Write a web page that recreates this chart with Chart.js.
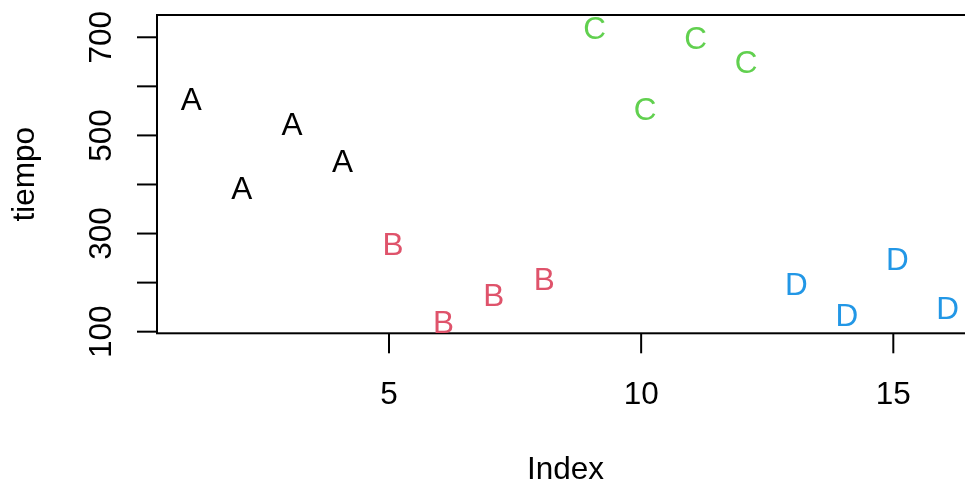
<!DOCTYPE html>
<html>
<head>
<meta charset="utf-8">
<script src="https://cdn.jsdelivr.net/npm/chart.js@4.4.1/dist/chart.umd.min.js"></script>
<style>
  html, body { margin: 0; padding: 0; background: #ffffff; overflow: hidden; width: 965px; height: 487px; }
  canvas { display: block; }
</style>
</head>
<body>
<canvas id="c" width="1000" height="487"></canvas>
<script>
// ---- data ----
const categories = ['A', 'B', 'C', 'D'];
const groupOf = ['A','A','A','A','B','B','B','B','C','C','C','C','D','D','D','D'];
const tiempo = [575, 393, 524, 448, 278, 119, 174, 208, 719, 554, 699, 650, 198, 135, 249, 149];
const groupColors = ['#000000', '#DF536B', '#61D04F', '#2297E6'];
const xTickValues = [5, 10, 15];
const xTickLabels = ['5', '10', '15'];
const yTickValues = [100, 200, 300, 400, 500, 600, 700];
const yTickLabels = ['100', '', '300', '', '500', '', '700'];
const xTitle = 'Index';
const yTitle = 'tiempo';

const FONT_SIZE = 31.5;
const FONT = FONT_SIZE + 'px "Liberation Sans", Arial, sans-serif';

const datasets = categories.map((cat, ci) => ({
  label: cat,
  data: tiempo.map((v, i) => ({ x: i + 1, y: v, g: groupOf[i] })).filter(p => p.g === cat),
  pointRadius: 0,
  pointHoverRadius: 0,
  showLine: false,
  color: groupColors[ci]
}));

const rBase = {
  id: 'rBase',
  afterDraw(chart) {
    const ctx = chart.ctx;
    const a = chart.chartArea;
    const xs = chart.scales.x, ys = chart.scales.y;
    ctx.save();
    ctx.strokeStyle = '#000';
    ctx.fillStyle = '#000';
    ctx.lineWidth = 2;
    ctx.strokeRect(a.left, a.top, a.right - a.left, a.bottom - a.top);
    ctx.font = FONT;
    // y ticks
    yTickValues.forEach((v, i) => {
      const py = ys.getPixelForValue(v);
      ctx.beginPath();
      ctx.moveTo(a.left, py);
      ctx.lineTo(a.left - 20, py);
      ctx.stroke();
      if (yTickLabels[i]) {
        ctx.save();
        ctx.translate(110.5, py);
        ctx.rotate(-Math.PI / 2);
        ctx.textAlign = 'center';
        ctx.textBaseline = 'alphabetic';
        ctx.fillText(yTickLabels[i], 0, 0);
        ctx.restore();
      }
    });
    // x ticks
    xTickValues.forEach((v, i) => {
      const px = xs.getPixelForValue(v);
      ctx.beginPath();
      ctx.moveTo(px, a.bottom);
      ctx.lineTo(px, a.bottom + 20);
      ctx.stroke();
      ctx.textAlign = 'center';
      ctx.textBaseline = 'alphabetic';
      ctx.fillText(xTickLabels[i], px, 403.5);
    });
    // titles
    ctx.textAlign = 'center';
    ctx.fillText(xTitle, (a.left + a.right) / 2, 478.5);
    ctx.save();
    ctx.translate(34, (a.top + a.bottom) / 2);
    ctx.rotate(-Math.PI / 2);
    ctx.fillText(yTitle, 0, 0);
    ctx.restore();
    // point labels (letters as plotting symbols)
    chart.data.datasets.forEach((ds, di) => {
      const meta = chart.getDatasetMeta(di);
      ctx.fillStyle = ds.color;
      meta.data.forEach(el => {
        const m = ctx.measureText(ds.label);
        const capH = m.actualBoundingBoxAscent;
        ctx.fillText(ds.label, el.x + 4, el.y + capH / 2);
      });
    });
    ctx.restore();
  }
};

new Chart(document.getElementById('c'), {
  type: 'scatter',
  data: { datasets },
  options: {
    responsive: false,
    animation: false,
    events: [],
    layout: { padding: { left: 157, top: 15, right: 26, bottom: 153.7 } },
    plugins: { legend: { display: false }, tooltip: { enabled: false } },
    scales: {
      x: { type: 'linear', min: 0.4, max: 16.6, display: false },
      y: { type: 'linear', min: 96.7, max: 745.4, display: false }
    }
  },
  plugins: [rBase]
});
</script>
</body>
</html>
